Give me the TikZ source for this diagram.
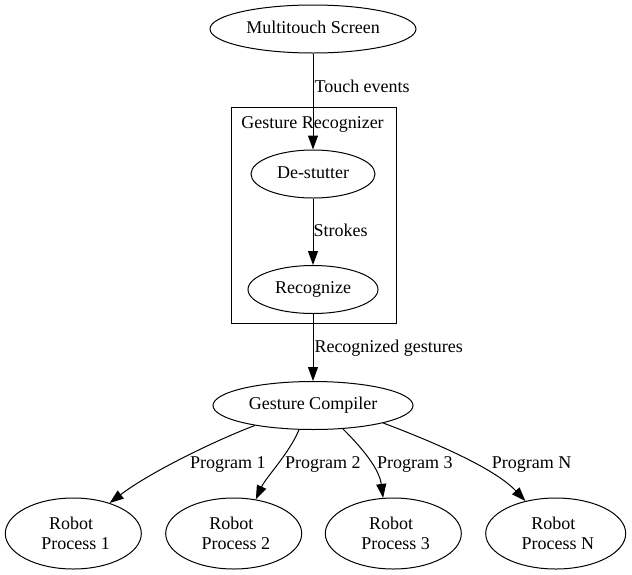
\documentclass[tikz,border=0pt]{standalone}
\usepackage{fontspec}
\setmainfont{Liberation Serif}
\usetikzlibrary{arrows.meta,shapes.geometric}
\begin{document}
\begin{tikzpicture}[x=1pt,y=1pt,
  every node/.style={font=\fontsize{18}{20}\selectfont},
  nodebase/.style={draw, ellipse, line width=1pt, inner sep=0pt, align=center},
  gnode/.style={nodebase, minimum height=48pt, text height=12pt, text depth=3.5pt},
  robot/.style={nodebase, minimum height=71pt},
  lbl/.style={inner sep=0pt, anchor=base west},
  flow/.style={draw, line width=1pt, -{Triangle[length=14pt,width=10pt]}},
  clusterbox/.style={draw, line width=1pt, inner sep=0pt}
]
\useasboundingbox (0,0) rectangle (632,-574);

% cluster
\node[clusterbox, minimum width=165pt, minimum height=216pt] (grp) at (313.5,-215) {};
\node[inner sep=0pt, anchor=base] (gl) at (312.5,-128.3) {Gesture Recognizer};

% nodes
\node[gnode, minimum width=206pt] (m) at (313,-29) {Multitouch Screen};
\node[gnode, minimum width=124pt] (d) at (313,-174) {De-stutter};
\node[gnode, minimum width=130pt] (r) at (313,-289.5) {Recognize};
\node[gnode, minimum width=200pt] (c) at (313,-405.5) {Gesture Compiler};
\node[robot, minimum width=136pt] (p1) at (73.3,-533.5) {Robot\kern4.5pt\\\kern4.5pt Process 1};
\node[robot, minimum width=136pt] (p2) at (233.7,-533.5) {Robot\kern4.5pt\\\kern4.5pt Process 2};
\node[robot, minimum width=136pt] (p3) at (393.3,-533.5) {Robot\kern4.5pt\\\kern4.5pt Process 3};
\node[robot, minimum width=140pt] (pN) at (555.7,-533.5) {Robot\kern4.5pt\\\kern4.5pt Process N};

% edges
\draw[flow] (m) -- (d);
\draw[flow] (d) -- (r);
\draw[flow] (r) -- (c);
\draw[flow] (c.199) .. controls +(-35,-13) and +(42,32) .. (p1.40);
\draw[flow] (c.240) .. controls +(-10,-24) and +(10,22) .. (p2.57);
\draw[flow] (c.322) .. controls +(18,-18) and +(-4,30) .. (p3.106);
\draw[flow] (c.346) .. controls +(45,-17) and +(-32,34) .. (pN.133);

% edge labels
\node[lbl] (l0) at (314.3,-92) {Touch events};
\node[lbl] (l1) at (313.5,-236) {Strokes};
\node[lbl] (l2) at (314.3,-352) {Recognized gestures};
\node[lbl] (lp1) at (190,-468.3) {Program 1};
\node[lbl] (lp2) at (285,-468.3) {Program 2};
\node[lbl] (lp3) at (377,-468.3) {Program 3};
\node[lbl] (lpN) at (491.7,-468.3) {Program N};
\end{tikzpicture}
\end{document}
